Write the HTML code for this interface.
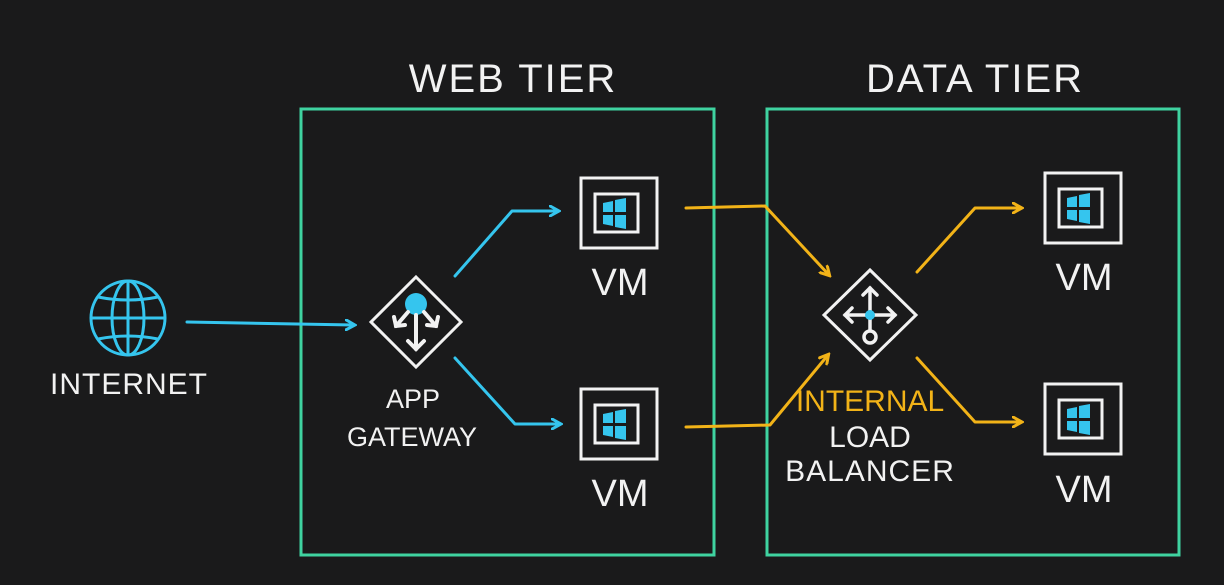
<!DOCTYPE html>
<html><head><meta charset="utf-8"><style>
html,body{margin:0;padding:0;background:#1a1a1b;}
svg{display:block}
text{font-family:"Liberation Sans",sans-serif;font-weight:normal;}
</style></head><body>
<svg width="1224" height="585" viewBox="0 0 1224 585" xmlns="http://www.w3.org/2000/svg">
<defs>
<g id="vm">
<rect x="1" y="1" width="76" height="70" fill="none" stroke="#f2f2f2" stroke-width="3"/>
<rect x="15" y="17" width="43" height="38" fill="none" stroke="#f2f2f2" stroke-width="3"/>
<polygon points="23,26 33,24 33,35 23,35" fill="#35c5ee"/>
<polygon points="35,23 46,21 46,35 35,35" fill="#35c5ee"/>
<polygon points="23,38 33,38 33,49 23,47" fill="#35c5ee"/>
<polygon points="35,38 46,38 46,52 35,50" fill="#35c5ee"/>
</g>
<marker id="ab" markerWidth="12" markerHeight="12" refX="9" refY="6" orient="auto" markerUnits="userSpaceOnUse"><path d="M1,1 L10,6 L1,11" fill="none" stroke="#35c5ee" stroke-width="3" stroke-linecap="round"/></marker>
<marker id="ao" markerWidth="12" markerHeight="12" refX="9" refY="6" orient="auto" markerUnits="userSpaceOnUse"><path d="M1,1 L10,6 L1,11" fill="none" stroke="#f2b318" stroke-width="3" stroke-linecap="round"/></marker>
</defs>
<rect width="1224" height="585" fill="#1a1a1b"/>
<!-- tier boxes -->
<rect x="301" y="109" width="413" height="446" fill="none" stroke="#3fd3a0" stroke-width="3"/>
<rect x="767" y="109" width="412" height="446" fill="none" stroke="#3fd3a0" stroke-width="3"/>
<text x="513" y="92" text-anchor="middle" font-size="40" fill="#f2f2f2" letter-spacing="2">WEB TIER</text>
<text x="975" y="92" text-anchor="middle" font-size="40" fill="#f2f2f2" letter-spacing="2">DATA TIER</text>
<!-- globe -->
<g fill="none" stroke="#35c5ee" stroke-width="3">
<circle cx="128" cy="318" r="37"/>
<ellipse cx="128" cy="318" rx="16" ry="37"/>
<line x1="128" y1="281" x2="128" y2="355"/>
<line x1="91" y1="318" x2="165" y2="318"/>
<path d="M98,297 Q128,303 158,297"/>
<path d="M98,339 Q128,333 158,339"/>
</g>
<text x="129" y="394" text-anchor="middle" font-size="30" fill="#f2f2f2" letter-spacing="1">INTERNET</text>
<!-- app gateway -->
<polygon points="416,277 461,322 416,367 371,322" fill="none" stroke="#f2f2f2" stroke-width="3"/>
<circle cx="416" cy="304" r="11" fill="#35c5ee"/>
<g stroke="#f2f2f2" stroke-width="4" fill="none" stroke-linecap="round">
<line x1="416" y1="315" x2="416" y2="349"/><path d="M408,341 L416,349 L424,341"/>
<line x1="408" y1="312" x2="396" y2="326"/><path d="M394,317 L396,326 L405,325"/>
<line x1="424" y1="312" x2="436" y2="326"/><path d="M438,317 L436,326 L427,325"/>
</g>
<text x="413" y="408" text-anchor="middle" font-size="27" fill="#f2f2f2">APP</text>
<text x="412" y="446" text-anchor="middle" font-size="27" fill="#f2f2f2">GATEWAY</text>
<!-- VMs -->
<use href="#vm" x="580" y="177"/>
<use href="#vm" x="580" y="388"/>
<use href="#vm" x="1044" y="172"/>
<use href="#vm" x="1044" y="383"/>
<text x="620" y="295" text-anchor="middle" font-size="38" fill="#f2f2f2">VM</text>
<text x="620" y="506" text-anchor="middle" font-size="38" fill="#f2f2f2">VM</text>
<text x="1084" y="290" text-anchor="middle" font-size="38" fill="#f2f2f2">VM</text>
<text x="1084" y="502" text-anchor="middle" font-size="38" fill="#f2f2f2">VM</text>
<!-- LB -->
<polygon points="870,270 916,315 870,360 824,315" fill="none" stroke="#f2f2f2" stroke-width="3"/>
<g stroke="#f2f2f2" stroke-width="3.5" fill="none" stroke-linecap="round">
<line x1="870" y1="315" x2="870" y2="288"/><path d="M863,295 L870,288 L877,295"/>
<line x1="845" y1="315" x2="895" y2="315"/><path d="M852,308 L845,315 L852,322"/><path d="M888,308 L895,315 L888,322"/>
<line x1="870" y1="315" x2="870" y2="330"/><circle cx="870" cy="337" r="6"/>
</g>
<circle cx="870" cy="315" r="5" fill="#35c5ee"/>
<text x="870" y="411" text-anchor="middle" font-size="30" fill="#f2b318">INTERNAL</text>
<text x="870" y="447" text-anchor="middle" font-size="30" fill="#f2f2f2">LOAD</text>
<text x="870" y="481" text-anchor="middle" font-size="30" fill="#f2f2f2" letter-spacing="1">BALANCER</text>
<!-- arrows -->
<g fill="none" stroke-width="3" stroke-linecap="round" stroke-linejoin="round">
<path d="M187,322 L354,325" stroke="#35c5ee" marker-end="url(#ab)"/>
<path d="M455,276 L512,211 L558,211" stroke="#35c5ee" marker-end="url(#ab)"/>
<path d="M455,358 L515,424 L560,424" stroke="#35c5ee" marker-end="url(#ab)"/>
<path d="M686,208 L765,206 L829,275" stroke="#f2b318" marker-end="url(#ao)"/>
<path d="M686,427 L770,425 L828,355" stroke="#f2b318" marker-end="url(#ao)"/>
<path d="M917,272 L975,208 L1021,208" stroke="#f2b318" marker-end="url(#ao)"/>
<path d="M917,358 L975,422 L1021,422" stroke="#f2b318" marker-end="url(#ao)"/>
</g>
</svg>
</body></html>
